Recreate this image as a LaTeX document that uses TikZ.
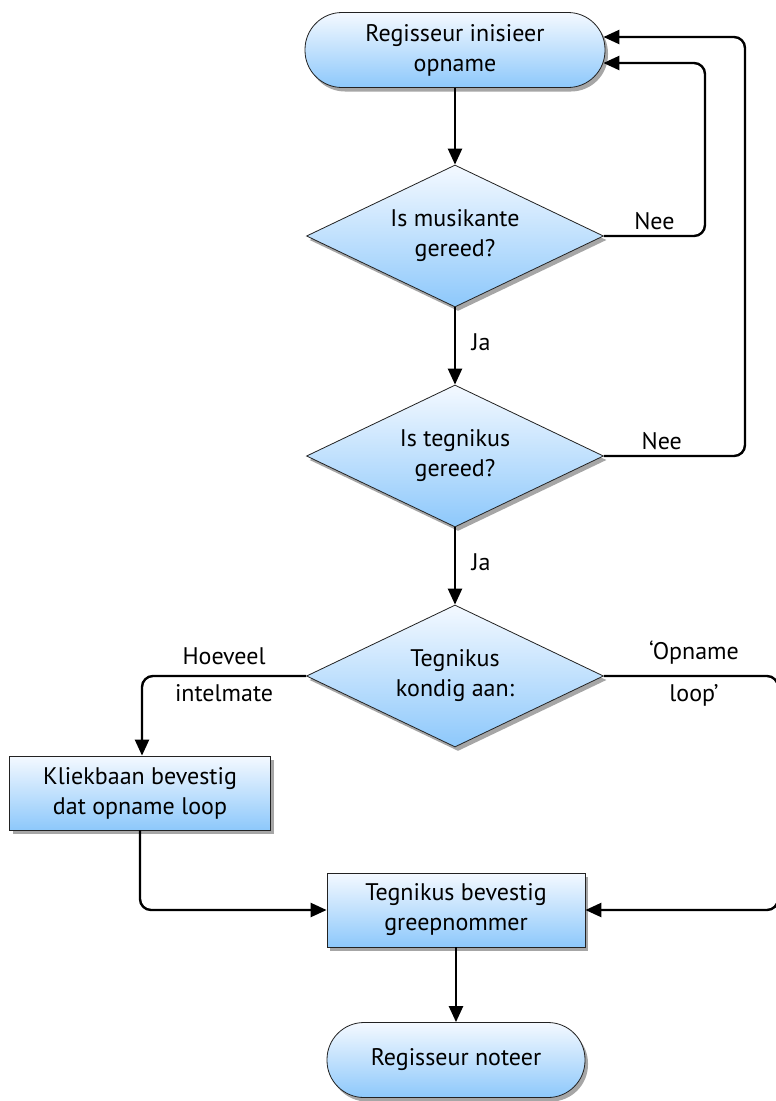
\documentclass[tikz,border=0pt]{standalone}
\usepackage{fontspec}
\setmainfont{PT Sans}
\usetikzlibrary{shapes.geometric,arrows.meta,shadows}
\definecolor{boxtop}{HTML}{F4F9FF}
\definecolor{boxbot}{HTML}{8DC8FB}
\definecolor{edgegray}{HTML}{222222}
\tikzset{
  shape base/.style={draw=edgegray, line width=0.8pt, top color=boxtop, bottom color=boxbot,
    align=center, font=\fontsize{24}{30}\selectfont, text=black, inner sep=0pt,
    drop shadow={shadow xshift=3pt, shadow yshift=-4pt, fill=black, opacity=0.35}},
  terminal/.style={shape base, rectangle, rounded corners=37pt, minimum width=#1, minimum height=75pt},
  process/.style={shape base, rectangle, minimum width=#1, minimum height=74pt},
  decision/.style={shape base, diamond, aspect=2.09, minimum width=297pt, minimum height=142pt},
  arr/.style={line width=2.4pt, -{Triangle[length=16pt,width=14pt]}, rounded corners=11pt},
  lbl/.style={font=\fontsize{24}{30}\selectfont, text=black}
}
\begin{document}
\begin{tikzpicture}[x=1pt,y=-1pt]
\useasboundingbox (0,0) rectangle (776,1101);
\fill[white] (0,0) rectangle (776,1101);

% nodes of the flow
\node[terminal=300pt] (start) at (455,50) {Regisseur inisieer\\opname};
\node[decision] (q1) at (455,236) {Is musikante\\gereed?};
\node[decision] (q2) at (455,456) {Is tegnikus\\gereed?};
\node[decision] (q3) at (455,676) {Tegnikus\\kondig aan:};
\node[process=261pt] (klk) at (140,793) {Kliekbaan bevestig\\dat opname loop};
\node[process=258pt] (conf) at (456,910) {Tegnikus bevestig\\greepnommer};
\node[terminal=258pt] (done) at (456,1060) {Regisseur noteer};

% main line
\draw[arr] (start) -- (q1);
\draw[arr] (q1) -- node[lbl, right, xshift=12pt, pos=0.45] (ja1) {Ja} (q2);
\draw[arr] (q2) -- node[lbl, right, xshift=12pt, pos=0.45] (ja2) {Ja} (q3);
\draw[arr] (conf) -- (done);

% "no" loops back to the start
\draw[arr] (q1.east) -- node[lbl, above, pos=0.5, yshift=2pt] (nee1) {Nee} (705,236) -- (705,63) -- ([shift={(-2,13)}]start.east);
\draw[arr] (q2.east) -- node[lbl, above, pos=0.41, yshift=2pt] (nee2) {Nee} (745,456) -- (745,37) -- ([shift={(-2,-13)}]start.east);

% branches of the signal
\draw[arr] (q3.west) -- node[lbl, above, yshift=7pt] (hv) {Hoeveel} node[lbl, below, yshift=-4pt] (im) {intelmate} (142,676) -- (klk.north -| 142,0);
\draw[arr] (q3.east) -- node[lbl, above, yshift=7pt, xshift=3pt] (op) {‘Opname} node[lbl, below, yshift=-4pt, xshift=3pt] (lp) {loop’} (778,676) -- (778,910) -- (conf.east);
\draw[arr] (klk.south) -- (140,910) -- (conf.west);
\end{tikzpicture}
\end{document}
